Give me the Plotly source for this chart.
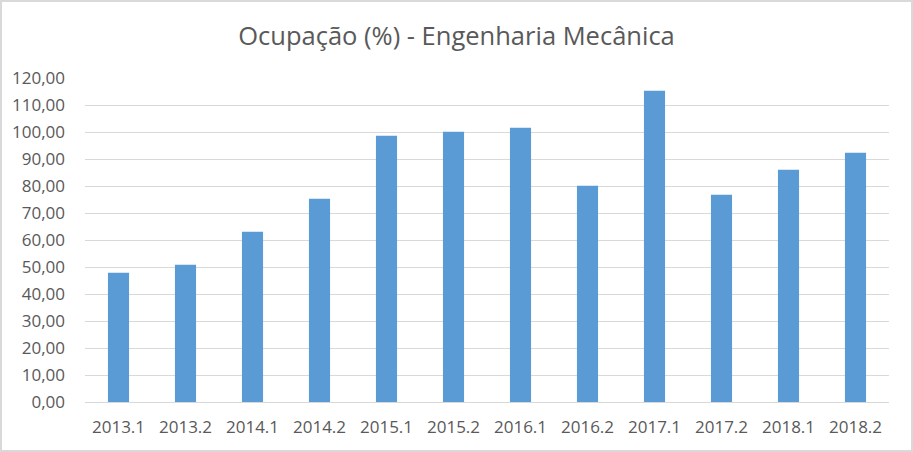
import plotly.graph_objects as go

categories = ["2013.1", "2013.2", "2014.1", "2014.2", "2015.1", "2015.2",
              "2016.1", "2016.2", "2017.1", "2017.2", "2018.1", "2018.2"]
values = [47.9, 50.8, 63.1, 75.3, 98.6, 100.1, 101.6, 80.1, 115.3, 76.8, 86.0, 92.3]
y_ticks = list(range(0, 121, 10))

W, H = 913, 452
L, R, T, B = 85, 24, 78, 50
pw, ph = W - L - R, H - T - B

fig = go.Figure()
fig.add_trace(go.Bar(x=categories, y=values, marker=dict(color="#5B9BD5", line=dict(width=0)),
                     width=0.315))

font_fam = "Open Sans, Lato, sans-serif"
fig.update_layout(
    width=W, height=H,
    margin=dict(l=L, r=R, t=T, b=B),
    paper_bgcolor="white", plot_bgcolor="white",
    separators=",.",
    title=dict(text="Ocupação (%) - Engenharia Mecânica", x=0.5, xanchor="center",
               y=1 - 36 / H, yanchor="middle",
               font=dict(family=font_fam, size=25.5, color="#595959")),
    showlegend=False,
    xaxis=dict(showgrid=False, showline=True, linecolor="#d9d9d9", linewidth=1,
               ticks="", tickfont=dict(family=font_fam, size=17, color="#595959"),
               ticklabelstandoff=10, zeroline=False),
    yaxis=dict(range=[0, 120], tickvals=y_ticks, tickformat=".2f", showgrid=True,
               gridcolor="#d9d9d9", gridwidth=1, zeroline=False, showline=False,
               ticks="", tickfont=dict(family=font_fam, size=17, color="#595959"),
               ticklabelstandoff=19),
)

fig.add_shape(type="rect", xref="paper", yref="paper",
              x0=(1 - L) / pw, x1=(W - 1 - L) / pw,
              y0=(H - B - (H - 1)) / ph, y1=(H - B - 1) / ph,
              line=dict(color="#d9d9d9", width=2), layer="above")

fig.write_html("out.html")
